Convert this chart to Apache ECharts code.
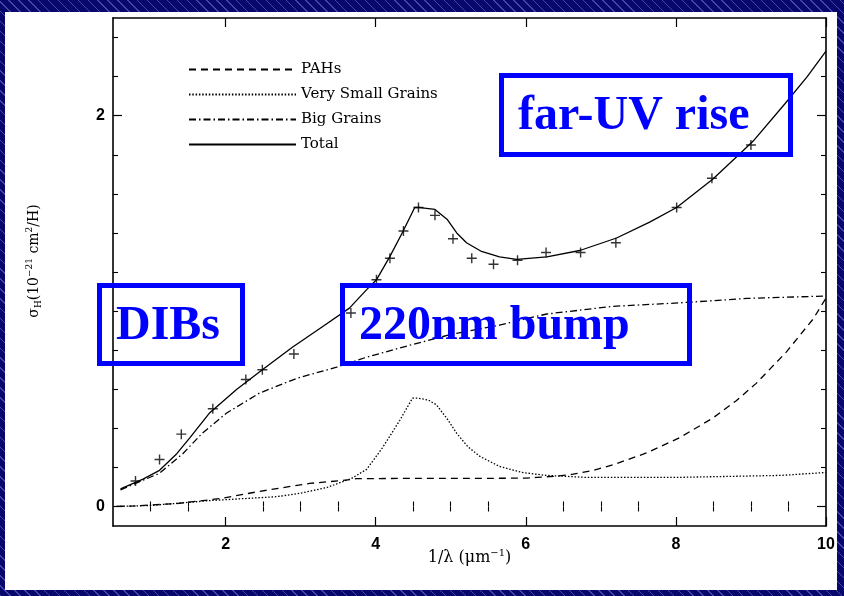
<!DOCTYPE html>
<html><head><meta charset="utf-8">
<script src="https://cdn.jsdelivr.net/npm/echarts@6/dist/echarts.min.js"></script>
<style>
html,body{margin:0;padding:0;width:844px;height:596px;overflow:hidden;
background-color:#07076c;
background-image:repeating-linear-gradient(45deg, rgba(110,110,210,0.6) 0px, rgba(110,110,210,0.6) 1px, transparent 1px, transparent 7px);}
#c{width:844px;height:596px;}
</style></head><body><div id="c"></div>
<script>
// observed extinction (crosses)
const obsX = [0.8,1.12,1.41,1.83,2.27,2.49,2.91,3.67,4.01,4.19,4.37,4.57,4.79,5.03,5.28,5.57,5.89,6.27,6.73,7.2,8.01,8.48,9.0];
const obsY = [0.13,0.24,0.37,0.50,0.65,0.70,0.78,0.99,1.16,1.27,1.41,1.53,1.49,1.37,1.27,1.24,1.26,1.30,1.30,1.35,1.53,1.68,1.85];
// PAHs
const pahX = [0.55,0.8,1.35,1.92,2.45,3.12,3.56,3.75,4.5,5.5,6.0,6.15,6.4,6.63,6.9,7.16,7.61,8.05,8.49,8.8,9.07,9.47,9.83,10];
const pahY = [0.0,0.003,0.015,0.04,0.077,0.118,0.133,0.142,0.144,0.144,0.145,0.149,0.155,0.165,0.185,0.213,0.274,0.352,0.452,0.54,0.63,0.79,0.96,1.067];
// Very Small Grains
const vsgX = [0.55,1.0,1.79,2.68,3.0,3.35,3.68,3.88,4.09,4.32,4.49,4.56,4.7,4.81,4.95,5.08,5.23,5.39,5.65,5.95,6.27,6.8,8.05,9.4,10];
const vsgY = [0.0,0.005,0.03,0.05,0.068,0.097,0.144,0.19,0.30,0.44,0.554,0.554,0.545,0.52,0.45,0.374,0.305,0.256,0.205,0.174,0.159,0.149,0.149,0.159,0.174];
// Big Grains
const bgX = [0.6,1.12,1.43,1.69,2.01,2.45,2.95,3.48,3.88,4.5,5.0,5.65,6.05,6.28,7.15,8.05,8.95,10];
const bgY = [0.085,0.17,0.27,0.375,0.477,0.58,0.656,0.713,0.764,0.83,0.88,0.928,0.965,0.985,1.024,1.042,1.065,1.077];
// Total
const totX = [0.6,0.9,1.12,1.35,1.52,1.79,2.15,2.49,2.89,3.29,3.65,3.88,4.01,4.19,4.36,4.52,4.59,4.79,4.95,5.08,5.21,5.41,5.65,5.88,6.28,6.72,7.21,7.65,8.01,8.49,8.81,9.03,9.45,9.75,10];
const totY = [0.09,0.14,0.185,0.27,0.35,0.48,0.60,0.70,0.815,0.92,1.015,1.11,1.16,1.28,1.405,1.53,1.53,1.52,1.47,1.40,1.35,1.305,1.277,1.265,1.277,1.31,1.374,1.455,1.53,1.675,1.79,1.87,2.06,2.20,2.33];

const seriesNames = ['PAHs','Very Small Grains','Big Grains','Total'];
const xMajor = [2,4,6,8,10];
const xMinor = [1,1.5,2.5,3,3.5,4.5,5,5.5,6.5,7,7.5,8.5,9,9.5];
const yMajor = [0,2];
const yMinor = [0.2,0.4,0.6,0.8,1.0,1.2,1.4,1.6,1.8,2.2,2.4];
const annotations = ['far-UV rise','DIBs','220nm bump'];

const zip = (a,b)=>a.map((v,i)=>[v,b[i]]);
const chart = echarts.init(document.getElementById('c'));
const black = '#000';
const gridBox = {left:113,right:18,top:18,bottom:70};
const majorX = (pos, labels, name) => ({
  gridIndex:0, type:'value', position:pos, min:0.5, max:10,
  axisLine:{show:true,onZero:false,lineStyle:{color:black,width:1.6}},
  axisTick:{show:true,inside:true,length:9,customValues:xMajor,lineStyle:{color:black,width:1.2}},
  axisLabel:{show:labels,customValues:xMajor,margin:11,color:black,fontFamily:'Liberation Sans',fontWeight:'bold',fontSize:16},
  splitLine:{show:false},
  name:name||'', nameLocation:'middle', nameGap:22, nameMoveOverlap:false,
  nameTextStyle:{rich:{
    n:{fontFamily:'DejaVu Serif',fontSize:16,color:black,lineHeight:20},
    sup:{fontFamily:'DejaVu Serif',fontSize:10,color:black,lineHeight:10,verticalAlign:'top'}
  }}
});
const minorX = (pos) => ({
  gridIndex:1, type:'value', position:pos, min:0.5, max:10,
  axisLine:{show:false},
  axisTick:{show:true,inside:true,length:5,customValues:xMinor,lineStyle:{color:black,width:1.1}},
  axisLabel:{show:false}, splitLine:{show:false}
});
const majorY = (pos, labels, name) => ({
  gridIndex:0, type:'value', position:pos, min:-0.1, max:2.5,
  axisLine:{show:true,onZero:false,lineStyle:{color:black,width:1.6}},
  axisTick:{show:true,inside:true,length:9,customValues:yMajor,lineStyle:{color:black,width:1.2}},
  axisLabel:{show:labels,customValues:yMajor,margin:8,color:black,fontFamily:'Liberation Sans',fontWeight:'bold',fontSize:16},
  splitLine:{show:false},
  name:name||'', nameLocation:'middle', nameGap:70, nameRotate:90, nameMoveOverlap:false,
  nameTextStyle:{padding:[0,0,0,22],rich:{
    n:{fontFamily:'DejaVu Serif',fontSize:14,color:black,lineHeight:18},
    sub:{fontFamily:'DejaVu Serif',fontSize:9,color:black,lineHeight:9,verticalAlign:'bottom'},
    sup:{fontFamily:'DejaVu Serif',fontSize:9,color:black,lineHeight:9,verticalAlign:'top'}
  }}
});
const minorY = (pos) => ({
  gridIndex:1, type:'value', position:pos, min:-0.1, max:2.5,
  axisLine:{show:false},
  axisTick:{show:true,inside:true,length:5,customValues:yMinor,lineStyle:{color:black,width:1.1}},
  axisLabel:{show:false}, splitLine:{show:false}
});
const lineS = (name, xs, ys, type) => ({
  name, type:'line', xAxisIndex:0, yAxisIndex:0, data:zip(xs,ys),
  symbol:'none', showSymbol:false, smooth:false,
  lineStyle:{color:black,width:1.3,type:type}, itemStyle:{color:black}, z:3
});
const W = 5;
const boxes = [
  {l:499,t:73,r:793,b:157,text:annotations[0]},
  {l:97,t:283,r:245,b:366,text:annotations[1]},
  {l:340,t:283,r:692,b:366,text:annotations[2]}
];
const graphics = [{type:'rect',z:-100,shape:{x:5,y:12,width:832,height:578},style:{fill:'#fff'},silent:true}];
boxes.forEach(b=>{
  graphics.push({type:'rect',z:100,shape:{x:b.l+W/2,y:b.t+W/2,width:b.r-b.l-W,height:b.b-b.t-W},style:{fill:'transparent',stroke:'#0000ff',lineWidth:W},silent:true});
  graphics.push({type:'text',z:101,x:b.l+19,y:(b.t+b.b)/2+2,style:{text:b.text,fill:'#0000ff',font:'bold 48px "Liberation Serif"',textAlign:'left',textVerticalAlign:'middle'},silent:true});
});
chart.setOption({
  animation:false,
  backgroundColor:'transparent',
  grid:[Object.assign({},gridBox),Object.assign({},gridBox)],
  legend:{
    show:true, data:seriesNames, orient:'vertical', left:188, top:62, padding:0,
    itemWidth:107, itemHeight:14, itemGap:10, itemStyle:{opacity:0},
    textStyle:{fontFamily:'DejaVu Serif',fontSize:15,color:black}, selectedMode:false
  },
  xAxis:[majorX('bottom',true,'{n|1/λ (μm}{sup|−1}{n|)}'), majorX('top',false), minorX('bottom'), minorX('top')],
  yAxis:[majorY('left',true,'{n|σ}{sub|H}{n|(10}{sup|−21}{n| cm}{sup|2}{n|/H)}'), majorY('right',false), minorY('left'), minorY('right')],
  series:[
    lineS(seriesNames[0], pahX, pahY, [7,5]),
    lineS(seriesNames[1], vsgX, vsgY, [1.5,1.8]),
    lineS(seriesNames[2], bgX, bgY, [7,3,1.5,3]),
    lineS(seriesNames[3], totX, totY, 'solid'),
    {name:'Observed', type:'scatter', xAxisIndex:0, yAxisIndex:0, data:zip(obsX,obsY),
     symbol:'path://M4.3,0H5.7V4.3H10V5.7H5.7V10H4.3V5.7H0V4.3H4.3Z', symbolSize:10,
     itemStyle:{color:black}, z:4}
  ],
  graphic:graphics
});
</script></body></html>
